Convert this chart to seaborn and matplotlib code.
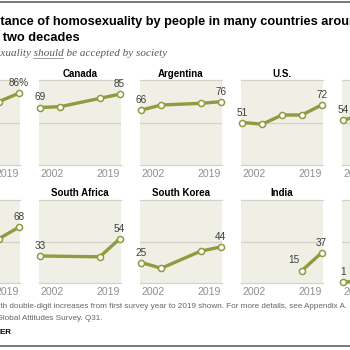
import matplotlib
matplotlib.use("Agg")
import numpy as np
import pandas as pd
import seaborn as sns
import matplotlib.pyplot as plt
from matplotlib.lines import Line2D

# survey years (evenly spaced on the x axis, like the original)
years = ["2002", "2007", "2011", "2013", "2019"]

# % who say homosexuality should be accepted by society
uk = [74, 71, np.nan, 76, 86]
canada = [69, 70, np.nan, 80, 85]
argentina = [66, 72, np.nan, 74, 76]
us = [51, 49, 60, 60, 72]
mexico = [54, 60, np.nan, 61, 69]
japan = [54, 49, np.nan, 54, 68]
south_africa = [33, np.nan, np.nan, 32, 54]
south_korea = [25, 18, np.nan, 39, 44]
india = [np.nan, np.nan, np.nan, 15, 37]
kenya = [1, 3, np.nan, 8, 14]

row1 = ["U.K.", "Canada", "Argentina", "U.S.", "Mexico"]
row2 = ["Japan", "South Africa", "South Korea", "India", "Kenya"]
series = [uk, canada, argentina, us, mexico, japan, south_africa, south_korea, india, kenya]

recs = []
for name, vals in zip(row1 + row2, series):
    for i, (yr, v) in enumerate(zip(years, vals)):
        recs.append({"country": name, "pos": i, "year": yr, "value": v})
df = pd.DataFrame(recs).dropna()

OLIVE = "#8E9B3F"
BG = "#EFEFE5"
GRID = "#D3D3CA"

sns.set_style("white")
plt.rcParams["font.family"] = ["Liberation Sans", "DejaVu Sans"]

W = H = 350
fig = plt.figure(figsize=(3.5, 3.5), dpi=100)

lefts = [-61.7, 39.3, 140.3, 241.3, 342.3]
pw = 81.5
rows = [(row1, 80, 165), (row2, 199.5, 283)]

for names, top, bot in rows:
    for name, lx in zip(names, lefts):
        ax = fig.add_axes([lx / W, (H - bot) / H, pw / W, (bot - top) / H])
        sub = df[df["country"] == name]
        sns.lineplot(data=sub, x="pos", y="value", ax=ax, color=OLIVE, lw=2.4,
                     marker="o", markersize=4.4, markerfacecolor="white",
                     markeredgecolor=OLIVE, markeredgewidth=1.1, clip_on=False, zorder=3)
        ax.set_facecolor(BG)
        ax.set_xlim(-0.06, 4.06)
        ax.set_ylim(0, 102)
        ax.axhline(50, color=GRID, lw=0.9, zorder=1)
        for s in ["left", "right"]:
            ax.spines[s].set_visible(False)
        for s in ["top", "bottom"]:
            ax.spines[s].set_color(GRID)
            ax.spines[s].set_linewidth(0.9)
        ax.set_yticks([])
        ax.set_xticks([0, 4], ["2002", "2019"])
        ax.tick_params(axis="x", length=0, pad=3.0, labelsize=7.6, labelcolor="#8f8f8f")
        tl = ax.get_xticklabels()
        tl[0].set_ha("left")
        tl[1].set_ha("right")
        ax.set_xlabel("")
        ax.set_ylabel("")
        ax.set_title(name, fontsize=7.0, fontweight="bold", pad=2.3, color="black")

        # first and last value labels
        first, last = sub.iloc[0], sub.iloc[-1]
        if first["pos"] == 0:
            ax.annotate(f"{first['value']:.0f}", (first["pos"], first["value"]), xytext=(0, 3.6),
                        textcoords="offset points", ha="center", va="bottom",
                        fontsize=7.2, color="#3d3d3d", annotation_clip=False)
        else:
            ax.annotate(f"{first['value']:.0f}", (first["pos"], first["value"]), xytext=(-1.5, 4),
                        textcoords="offset points", ha="right", va="bottom",
                        fontsize=7.2, color="#3d3d3d", annotation_clip=False)
        suffix = "%" if name == "U.K." else ""
        ax.annotate(f"{last['value']:.0f}{suffix}", (last["pos"], last["value"]), xytext=(0, 3.6),
                    textcoords="offset points", ha="center", va="bottom",
                    fontsize=7.2, color="#3d3d3d", annotation_clip=False)

fig.canvas.draw()
r = fig.canvas.get_renderer()


def tw(s, **kw):
    t = fig.text(0, 0, s, **kw)
    w = t.get_window_extent(r).width
    t.remove()
    return w


def cropped(full, prefix, x_vis, y_base, **kw):
    # place full text so the part after `prefix` starts at x_vis (pixels)
    c = full[len(prefix)]
    w = tw(prefix + c, **kw) - tw(c, **kw)
    x0 = x_vis - w
    fig.text(x0 / W, 1 - y_base / H, full, va="baseline", ha="left", **kw)
    return x0


title_kw = dict(fontsize=9.2, fontweight="bold", color="black")
cropped("Acceptance of homosexuality by people in many countries around the world has increased over",
        "Accep", 0.5, 25, **title_kw)
cropped("past two decades", "past ", 2.7, 41.5, **title_kw)

sub_kw = dict(fontsize=8, style="italic", color="#595959", family=["Liberation Serif", "DejaVu Serif"])
sub_full = "% who say homosexuality should be accepted by society"
x0 = cropped(sub_full, "% who say homose", 0.0, 56.5, **sub_kw)
u0 = x0 + tw("% who say homosexuality s", **sub_kw) - tw("s", **sub_kw)
u1 = u0 + tw("should", **sub_kw)
fig.add_artist(Line2D([u0 / W, u1 / W], [1 - 58 / H, 1 - 58 / H], transform=fig.transFigure,
                      color="#8a8a8a", lw=0.6))

note_kw = dict(fontsize=5.9, color="#666666")
cropped("Note: Only countries with double-digit increases from first survey year to 2019 shown. "
        "For more details, see Appendix A.", "Note: Only countries wi", 0.5, 307.5, **note_kw)
cropped("Source: Spring 2019 Global Attitudes Survey. Q31.", "Source: Spring 2019 G", 2.7, 319.5, **note_kw)
cropped("PEW RESEARCH CENTER", "PEW RESEARCH CENT", 0.0, 333.5, fontsize=5.8, fontweight="bold", color="black")

# frame rules at top and bottom of the graphic
for yp in [1.5, 345.5]:
    fig.add_artist(Line2D([0, 1], [1 - yp / H, 1 - yp / H], transform=fig.transFigure,
                          color="#7a7a7a", lw=1.4))

fig.savefig("out.png", dpi=100)
